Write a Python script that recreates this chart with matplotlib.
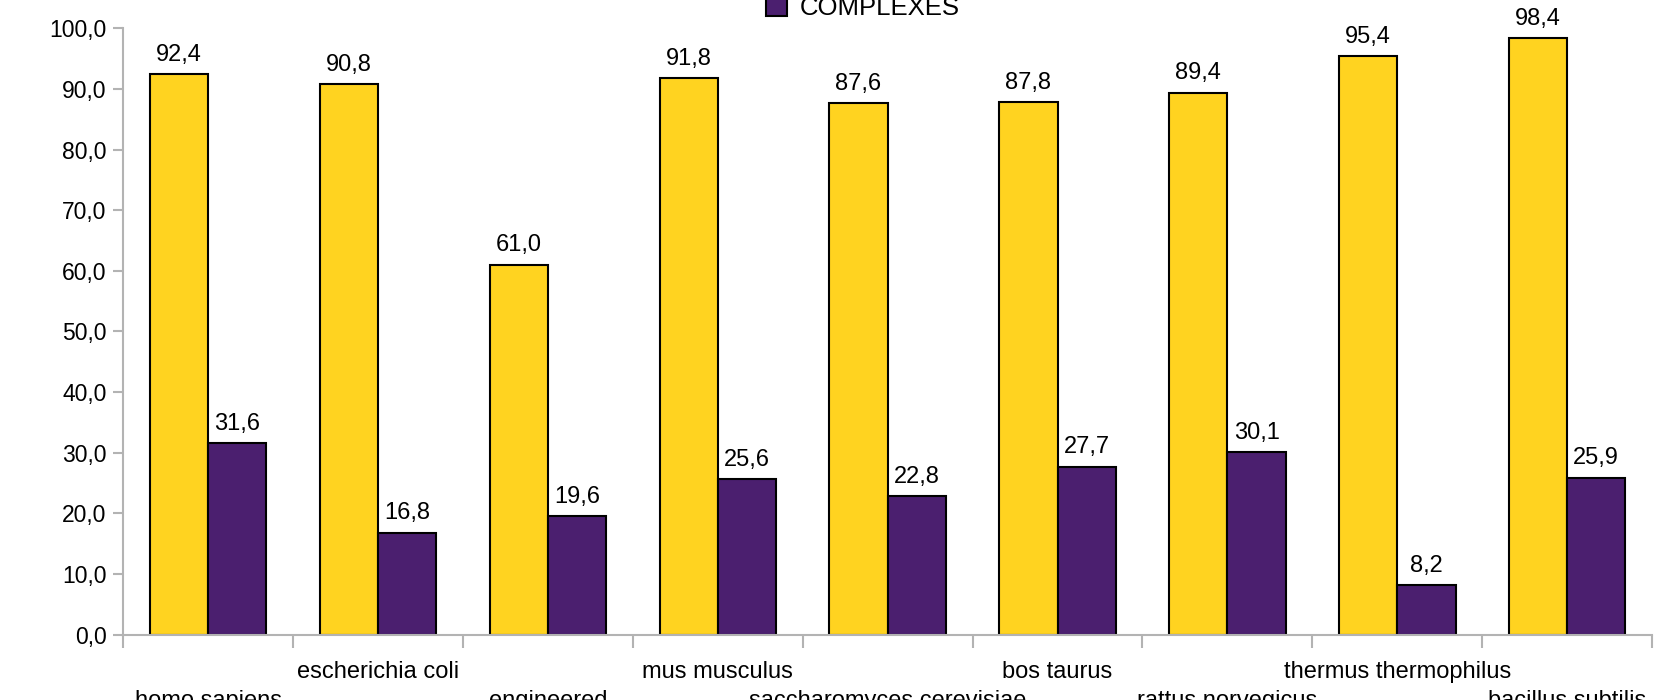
import numpy as np
import matplotlib
matplotlib.use("Agg")
import matplotlib.pyplot as plt
from matplotlib.ticker import FuncFormatter

species = ["homo sapiens", "escherichia coli", "engineered", "mus musculus",
           "saccharomyces cerevisiae", "bos taurus", "rattus norvegicus",
           "thermus thermophilus", "bacillus subtilis"]
total_pct = [92.4, 90.8, 61.0, 91.8, 87.6, 87.8, 89.4, 95.4, 98.4]
complexes_pct = [31.6, 16.8, 19.6, 25.6, 22.8, 27.7, 30.1, 8.2, 25.9]

YELLOW = "#FFD320"
PURPLE = "#4B1F6F"
GREY = "#B3B3B3"

plt.rcParams["font.family"] = ["Liberation Sans", "DejaVu Sans"]
plt.rcParams["font.size"] = 17


def comma(v):
    return f"{v:.1f}".replace(".", ",")


fig = plt.figure(figsize=(16.75, 7.0), dpi=100)
ax = fig.add_axes([0.0736, 0.0933, 0.9127, 0.8663])

x = np.arange(len(species))
w = 0.343
b1 = ax.bar(x - w / 2, total_pct, w, color=YELLOW, edgecolor="black", linewidth=1.5)
b2 = ax.bar(x + w / 2, complexes_pct, w, color=PURPLE, edgecolor="black", linewidth=1.5,
            label="COMPLEXES")

for bars, vals in ((b1, total_pct), (b2, complexes_pct)):
    for r, v in zip(bars, vals):
        ax.annotate(comma(v), (r.get_x() + r.get_width() / 2, v),
                    xytext=(0, 6), textcoords="offset points",
                    ha="center", va="bottom")

ax.set_xlim(-0.5, len(species) - 0.5)
ax.set_ylim(0, 100)
ax.set_yticks(np.arange(0, 101, 10))
ax.yaxis.set_major_formatter(FuncFormatter(lambda v, p: comma(v)))

# group boundaries carry the ticks, names sit below in two staggered rows
ax.set_xticks(np.arange(-0.5, len(species), 1.0))
ax.set_xticklabels([])
for i, name in enumerate(species):
    off = -19 if i % 2 else -40
    ax.annotate(name, (i, 0), xycoords=("data", "axes fraction"),
                xytext=(0, off), textcoords="offset points",
                ha="center", va="top", annotation_clip=False)

for s in ("top", "right"):
    ax.spines[s].set_visible(False)
for s in ("left", "bottom"):
    ax.spines[s].set_color(GREY)
    ax.spines[s].set_linewidth(1.5)
ax.tick_params(axis="y", color=GREY, width=1.5, length=7, pad=5, labelsize=16.5)
ax.tick_params(axis="x", color=GREY, width=1.5, length=9.5)

fig.legend(handles=[b2], labels=["COMPLEXES"], loc="center left",
           bbox_to_anchor=(766 / 1675, 1 - 8 / 700), frameon=False,
           borderpad=0, borderaxespad=0, handlelength=0.8, handleheight=0.8,
           handletextpad=0.5, fontsize=18.5)

fig.savefig("out.png", dpi=100)
